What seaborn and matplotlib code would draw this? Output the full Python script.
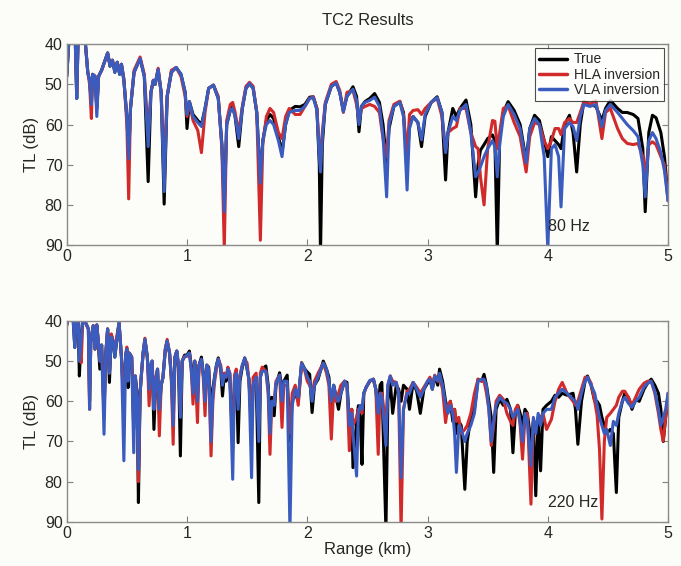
"""TC2 Results: transmission loss vs range at 80 Hz and 220 Hz (true vs inversions)."""

import matplotlib
matplotlib.use("Agg")
import matplotlib.pyplot as plt
import pandas as pd
import seaborn as sns

# === 80 Hz panel: range (km) and TL (dB) ===
RANGE_80 = [
    0.00, 0.02, 0.07, 0.083, 0.095, 0.15, 0.175, 0.19, 0.205, 0.215,
    0.235, 0.25, 0.265, 0.29, 0.34, 0.36, 0.38, 0.40, 0.42, 0.44,
    0.455, 0.475, 0.50, 0.515, 0.53, 0.56, 0.61, 0.645, 0.677, 0.70,
    0.72, 0.735, 0.76, 0.785, 0.81, 0.835, 0.87, 0.91, 0.95, 0.985,
    1.00, 1.02, 1.05, 1.09, 1.12, 1.15, 1.18, 1.22, 1.26, 1.29,
    1.31, 1.33, 1.36, 1.38, 1.40, 1.43, 1.46, 1.49, 1.52, 1.55,
    1.58, 1.61, 1.63, 1.66, 1.69, 1.72, 1.76, 1.79, 1.82, 1.85,
    1.90, 1.94, 1.98, 2.02, 2.05, 2.08, 2.10, 2.11, 2.125, 2.15,
    2.20, 2.24, 2.27, 2.30, 2.33, 2.38, 2.41, 2.43, 2.45, 2.48,
    2.52, 2.56, 2.60, 2.63, 2.66, 2.68, 2.72, 2.77, 2.80, 2.83,
    2.85, 2.88, 2.92, 2.95, 2.98, 3.03, 3.08, 3.12, 3.15, 3.17,
    3.21, 3.24, 3.27, 3.32, 3.36, 3.40, 3.42, 3.44, 3.47, 3.50,
    3.54, 3.56, 3.58, 3.60, 3.63, 3.67, 3.72, 3.77, 3.82, 3.85,
    3.89, 3.93, 3.97, 4.00, 4.03, 4.06, 4.09, 4.11, 4.14, 4.18,
    4.21, 4.24, 4.27, 4.30, 4.35, 4.40, 4.45, 4.48, 4.52, 4.58,
    4.62, 4.66, 4.71, 4.75, 4.79, 4.81, 4.84, 4.87, 4.90, 4.94,
    4.97, 5.00,
]
TRUE_80 = [
    48, 38, 38, 53.5, 38, 38, 47, 49, 55, 47.5,
    48, 56, 48, 46.5, 42.2, 45.5, 44, 47, 44.5, 47.5,
    45, 49, 58, 68, 56, 47, 43.6, 48, 74.2, 52,
    49, 50, 46.3, 52, 79.8, 53, 47, 45.8, 47.5, 52,
    61, 54.3, 57.5, 59, 60, 56, 51, 50.2, 53.5, 65,
    80, 60, 56.5, 55.5, 58, 65.5, 56, 51, 49.8, 51,
    57, 74, 64, 59, 57.5, 58.5, 63, 67, 60, 56.5,
    55.5, 55.6, 55, 53.2, 53.1, 56, 70, 92, 65, 55,
    50.5, 49.6, 52, 56.5, 53, 50.6, 53, 61.8, 55.5, 54.3,
    53.5, 52.3, 54.5, 60, 70, 61, 55.5, 54.3, 57, 70,
    60, 58, 59.5, 65.5, 58, 54.5, 53.1, 57, 73.8, 62,
    56, 58, 56, 53.9, 60, 78, 70, 66.4, 65, 63.5,
    62.6, 64, 92, 63, 57, 54.3, 56.5, 60, 69, 61,
    57.7, 59, 64, 68, 63, 64, 65, 66, 60, 57.7,
    62, 71.8, 60, 54.3, 55, 55.5, 59, 56, 54, 56,
    57, 57, 57.5, 58.5, 66, 81.7, 62, 57.7, 58.3, 62,
    68, 78,
]
HLA_80 = [
    48, 38, 38, 52, 38, 38, 47, 50, 58.5, 47.5,
    48, 56, 48, 46.5, 42.2, 45, 44, 46.5, 44.5, 47,
    45, 48.5, 60, 78.5, 56, 46.5, 43.2, 47.5, 62, 52,
    49, 50, 46, 52, 70, 53, 46.5, 45.8, 48, 53,
    58, 54.5, 59, 61.5, 67, 57, 51, 50.2, 53, 66,
    91, 59, 55, 54.5, 57, 62, 55.5, 50.5, 49.5, 50.5,
    57, 88.8, 65, 58, 56, 57, 62, 63.5, 58, 56,
    57.5, 57.5, 55.5, 53.5, 53.1, 56, 66, 70, 62, 54.5,
    50, 49.3, 51.5, 57, 52, 51.5, 55, 59, 56, 55.5,
    55, 55.5, 57, 63.5, 68, 59, 55, 54.2, 57.5, 68,
    57.5, 56.5, 56.3, 57.5, 56, 54.5, 53.5, 58, 66.5, 62,
    61, 60.5, 56, 56, 62, 65.5, 66, 73, 80, 66,
    59, 59.2, 66, 62, 56, 55.3, 59.5, 63, 71.8, 63,
    59.5, 60, 64, 66, 64, 61, 61, 62.5, 59.5, 58.5,
    59.5, 59.5, 57, 54.3, 55, 54, 63.5, 57, 56, 61,
    63.5, 64.7, 65, 64.7, 68, 72.2, 65, 64.3, 65, 68,
    70, 79,
]
VLA_80 = [
    48, 38, 38, 53.5, 38, 38, 47, 49, 55, 47.5,
    48, 58, 48, 46.5, 42.2, 45.5, 44, 47, 44.5, 47.5,
    45, 49, 58, 68.5, 56, 47, 43.6, 48, 65.5, 52,
    49, 50, 46.3, 52, 76.7, 53, 47, 45.8, 47.5, 52,
    57.5, 54.3, 58, 59.5, 60.5, 56, 51, 50.2, 53.5, 65,
    81.7, 60, 56.4, 56, 58, 63.5, 56, 51, 49.8, 51,
    57, 74.6, 64, 60, 59, 60, 64, 68, 60, 57,
    56.5, 56.5, 55.5, 53.5, 53.3, 56.5, 68, 71.8, 63, 55,
    50.5, 49.7, 52, 56.8, 53, 51.2, 54, 60, 55.5, 54.5,
    54, 53.2, 55.5, 63, 78, 60, 55.5, 54.5, 58, 76.3,
    61, 58, 59.5, 63.8, 57.5, 54.5, 53.3, 57, 67, 62,
    58, 59, 56.5, 55, 62, 73, 72, 70.5, 68, 66,
    64, 65.5, 73, 65, 58, 55, 57.5, 61, 69.5, 61,
    58.5, 60, 68, 91, 66, 65, 68, 80.5, 61, 59.5,
    60.5, 64, 58, 55, 55.5, 55, 60.5, 56.5, 55, 57,
    58.5, 60, 61.5, 63, 70, 78, 64, 62, 63.5, 67,
    71.5, 79,
]

# === 220 Hz panel ===
RANGE_220 = [
    0.00, 0.02, 0.05, 0.067, 0.08, 0.094, 0.105, 0.12, 0.135, 0.165,
    0.18, 0.19, 0.20, 0.22, 0.235, 0.25, 0.262, 0.275, 0.29, 0.31,
    0.325, 0.34, 0.355, 0.37, 0.385, 0.40, 0.415, 0.435, 0.455, 0.475,
    0.49, 0.50, 0.51, 0.52, 0.54, 0.557, 0.57, 0.585, 0.596, 0.61,
    0.62, 0.635, 0.65, 0.67, 0.685, 0.70, 0.71, 0.725, 0.74, 0.755,
    0.77, 0.785, 0.80, 0.82, 0.835, 0.855, 0.87, 0.885, 0.90, 0.915,
    0.93, 0.945, 0.96, 0.98, 1.00, 1.02, 1.035, 1.05, 1.065, 1.087,
    1.10, 1.12, 1.135, 1.15, 1.165, 1.18, 1.20, 1.215, 1.23, 1.245,
    1.26, 1.28, 1.295, 1.31, 1.325, 1.34, 1.355, 1.38, 1.395, 1.41,
    1.425, 1.44, 1.46, 1.48, 1.50, 1.515, 1.537, 1.55, 1.575, 1.597,
    1.61, 1.625, 1.656, 1.675, 1.69, 1.705, 1.725, 1.74, 1.77, 1.79,
    1.805, 1.833, 1.856, 1.875, 1.90, 1.925, 1.953, 1.98, 2.00, 2.02,
    2.04, 2.06, 2.09, 2.133, 2.16, 2.18, 2.20, 2.22, 2.24, 2.26,
    2.28, 2.31, 2.33, 2.35, 2.37, 2.38, 2.41, 2.425, 2.44, 2.455,
    2.47, 2.49, 2.52, 2.55, 2.57, 2.59, 2.605, 2.62, 2.654, 2.67,
    2.69, 2.71, 2.74, 2.76, 2.78, 2.80, 2.83, 2.85, 2.88, 2.91,
    2.94, 2.97, 3.00, 3.02, 3.04, 3.06, 3.085, 3.10, 3.125, 3.15,
    3.17, 3.19, 3.21, 3.225, 3.24, 3.26, 3.28, 3.31, 3.33, 3.36,
    3.39, 3.42, 3.45, 3.47, 3.49, 3.51, 3.53, 3.55, 3.57, 3.60,
    3.63, 3.66, 3.69, 3.71, 3.73, 3.75, 3.77, 3.79, 3.81, 3.83,
    3.86, 3.88, 3.90, 3.92, 3.94, 3.96, 3.99, 4.03, 4.06, 4.09,
    4.12, 4.16, 4.21, 4.23, 4.25, 4.28, 4.31, 4.33, 4.36, 4.39,
    4.41, 4.43, 4.45, 4.47, 4.49, 4.52, 4.545, 4.57, 4.59, 4.62,
    4.64, 4.67, 4.70, 4.73, 4.76, 4.80, 4.83, 4.86, 4.89, 4.92,
    4.94, 4.96, 4.98, 5.00,
]
TRUE_220 = [
    41, 38, 38, 46.6, 38, 39, 53.7, 44, 39, 41,
    42, 60, 45, 41.2, 47, 41, 45, 52, 46, 62,
    48, 42, 55.3, 43.3, 45, 49, 45, 40.5, 49, 60,
    48.5, 47, 56.6, 48, 49, 67, 53.7, 58, 85.2, 58,
    53.7, 48, 44.6, 49, 56, 51, 50, 67, 55, 52,
    63, 56, 54.1, 47, 45, 48, 54, 63, 49, 47.5,
    52, 73.6, 50, 48.5, 48.5, 47.5, 51, 56, 50, 58,
    51, 49, 53, 58, 51, 51.5, 63, 57, 53.7, 51,
    49.2, 52, 58.7, 53.5, 55, 52, 53, 70, 55, 53,
    70.3, 55, 51.5, 49.2, 52, 54.5, 66, 56, 54, 85.2,
    54, 52, 51.2, 56, 66, 59, 63.6, 56, 52.9, 57,
    55, 53.5, 70, 60, 58, 60, 50.4, 52, 52.7, 53.3,
    62.8, 56, 54.5, 50, 52, 54, 63, 56, 59, 62,
    58, 55, 55.3, 65, 62, 76.5, 65, 61.1, 64, 75.7,
    58, 56.5, 55, 54.5, 57, 63, 56, 55.3, 92, 60,
    55, 63, 56, 57, 60, 56, 57, 62, 55.3, 57.5,
    63, 57, 55.5, 54.5, 57, 53.7, 56, 52, 55, 60,
    62, 60, 65, 62, 68, 65, 66, 81.9, 70, 64,
    62, 54.5, 55, 53.3, 56, 60, 64, 77.7, 62, 59.5,
    61, 59.5, 62, 72.8, 63, 61, 63, 66, 62, 63,
    70, 65, 83.5, 64, 77.3, 62, 61, 60, 58.5, 59,
    58, 58.5, 58, 62, 70.7, 60, 55, 53.7, 56, 60,
    60, 61, 64, 66, 68, 67, 68, 82.7, 64, 60,
    58, 59, 62, 59.5, 60, 57, 55.5, 54.5, 56, 58,
    62, 70, 64, 60,
]
HLA_220 = [
    41, 38, 38, 44, 38, 39, 47, 50.4, 39, 41,
    42, 62, 45, 41.2, 47, 41, 45, 50, 46, 64,
    48, 42, 53, 43.3, 45, 48, 44, 40.5, 49, 62,
    48.5, 46.5, 54, 48, 49, 62, 53.7, 60, 80, 58,
    53.7, 48, 44.3, 49, 61.1, 51, 50, 62, 54, 52,
    68.6, 56, 54, 47, 44.6, 48, 55, 70.7, 49, 47.5,
    51, 63, 50, 48.8, 48.8, 48, 52, 60.7, 50, 65.3,
    51, 50, 54, 63.6, 51, 52, 73.6, 60, 55, 52,
    49.5, 51, 55, 53, 54, 51.5, 53, 72, 53.5, 52,
    60, 53.5, 51, 49.5, 50.5, 55, 68, 54, 53, 66,
    53, 51.5, 52.5, 58, 73.2, 60, 60, 55, 53.5, 66.5,
    56, 56, 68, 58, 56, 61, 50.5, 52.5, 55, 56,
    58, 55, 53, 50.5, 53, 56, 69.4, 57, 60, 58,
    56, 55, 56, 72.3, 62, 66, 64, 62, 62, 63,
    58, 56.5, 55, 54.5, 57, 73.2, 58, 58, 66, 56,
    53.7, 55, 55.3, 58, 92, 62, 57.5, 57, 55.3, 56.5,
    58, 56.5, 55, 54, 56, 53.5, 55, 54, 57, 65.3,
    61, 60, 63, 62, 65, 64, 68, 67, 66, 63,
    58, 54.5, 55, 55, 58, 62, 71, 66, 60, 58.5,
    59.5, 63, 65, 66, 62, 61, 66, 74.4, 64, 63,
    85.6, 65, 66, 64, 64, 63, 67, 64.5, 60, 57,
    55.3, 58, 60, 61, 60, 57, 54, 54, 55.5, 60,
    63.5, 72, 89.3, 70, 64, 63, 62, 61, 59, 57.5,
    57.5, 59, 61, 59, 57, 55.5, 55, 55, 58, 63,
    67, 69.9, 64, 58,
]
VLA_220 = [
    41, 38, 38, 46.6, 38, 39, 50, 45, 39, 41,
    42, 62, 45, 41.2, 47, 41, 45, 50, 46, 68.2,
    48, 42, 53, 44, 45, 49, 45, 40.5, 49, 74.8,
    48.5, 47, 55, 48, 49, 72.8, 53.7, 60, 77, 58,
    53.7, 48, 44.6, 49, 57, 51, 50, 62, 55, 52,
    62, 56, 54.1, 47, 45, 48, 54, 66, 49, 47.5,
    51, 64, 50, 49, 48.5, 48, 52, 58, 50, 60,
    51, 49.5, 53, 60, 51, 52, 70, 58, 54, 51,
    49.5, 51.5, 56, 53.5, 54, 52, 53, 79.4, 54.5, 53,
    62, 54, 51, 49.3, 52, 54.5, 79, 56, 54, 70,
    54, 52.5, 52.5, 57, 68, 60, 61, 55.5, 53.5, 60,
    55, 55, 92, 61, 57, 59, 50.6, 52, 54, 55,
    60, 56, 54, 50.5, 52, 55, 60, 56, 59, 60,
    58, 55, 56, 66, 63, 68, 78.6, 63, 61, 62,
    58, 56.5, 54.8, 54.5, 57, 63, 58, 59, 71, 56,
    53.7, 56, 55.3, 58, 79, 62, 58, 58, 55.3, 57,
    59, 57, 55, 54.5, 57, 53.7, 55, 53, 56, 61,
    63, 61, 63, 68, 77.7, 66, 67, 70, 68, 66,
    63, 55, 54.5, 54.5, 56, 62, 70, 65, 61, 59,
    60, 60.5, 62, 64, 63, 62, 65, 70, 63, 65,
    76, 64, 68, 63, 66, 63, 62, 62, 59, 58,
    57, 58, 59.5, 60, 62, 58, 55, 54, 56, 58,
    61, 64, 66, 68, 67, 71, 65, 66, 63, 60,
    59, 60.5, 61.5, 60, 59, 56.5, 55.5, 55, 57.5, 62,
    66, 64, 62, 58,
]

SERIES = ["True", "HLA inversion", "VLA inversion"]
COLORS = {"True": "#000000", "HLA inversion": "#d12a2a", "VLA inversion": "#3a5cbf"}
BG = "#fcfcf8"

sns.set_theme(style="ticks")
plt.rcParams["font.family"] = ["Liberation Sans", "DejaVu Sans"]


def long_frame(rng, true, hla, vla):
    parts = []
    for name, vals in zip(SERIES, (true, hla, vla)):
        parts.append(pd.DataFrame({"range_km": rng, "tl_db": vals, "series": name}))
    return pd.concat(parts, ignore_index=True)


def style_axes(ax):
    ax.set_facecolor(BG)
    ax.set_xlim(0, 5)
    ax.set_ylim(90, 40)
    ax.set_xticks([0, 1, 2, 3, 4, 5])
    ax.set_yticks([40, 50, 60, 70, 80, 90])
    ax.tick_params(direction="in", length=4, width=0.8, color="#808080",
                   labelsize=11.5, top=True, right=True, pad=3)
    for sp in ax.spines.values():
        sp.set_color("#8a8a8a")
        sp.set_linewidth(1.0)
    ax.set_ylabel("TL (dB)", fontsize=12, labelpad=4)


fig = plt.figure(figsize=(6.81, 5.66), dpi=100, facecolor=BG)
ax_top = fig.add_axes([0.098, 0.567, 0.883, 0.355])
ax_bot = fig.add_axes([0.098, 0.078, 0.883, 0.355])

panels = [
    (ax_top, long_frame(RANGE_80, TRUE_80, HLA_80, VLA_80), "80 Hz"),
    (ax_bot, long_frame(RANGE_220, TRUE_220, HLA_220, VLA_220), "220 Hz"),
]
for ax, df, label in panels:
    sns.lineplot(data=df, x="range_km", y="tl_db", hue="series", hue_order=SERIES,
                 palette=COLORS, estimator=None, sort=False, linewidth=2.2,
                 solid_joinstyle="round", ax=ax)
    style_axes(ax)
    ax.text(4.0, 85.3, label, fontsize=11.5, ha="left", va="center")

ax_top.set_xlabel("")
ax_bot.set_xlabel("Range (km)", fontsize=12, labelpad=1)
ax_top.set_title("TC2 Results", fontsize=12, pad=14)

leg = ax_top.legend(loc="upper right", fontsize=10, frameon=True, fancybox=False,
                    edgecolor="#222222", handlelength=2.0, borderaxespad=0.3,
                    borderpad=0.3, labelspacing=0.1, handletextpad=0.5)
leg.get_frame().set_linewidth(0.8)
for line in leg.get_lines():
    line.set_linewidth(2.5)
ax_bot.get_legend().remove()

fig.savefig("out.png", dpi=100, facecolor=BG)
